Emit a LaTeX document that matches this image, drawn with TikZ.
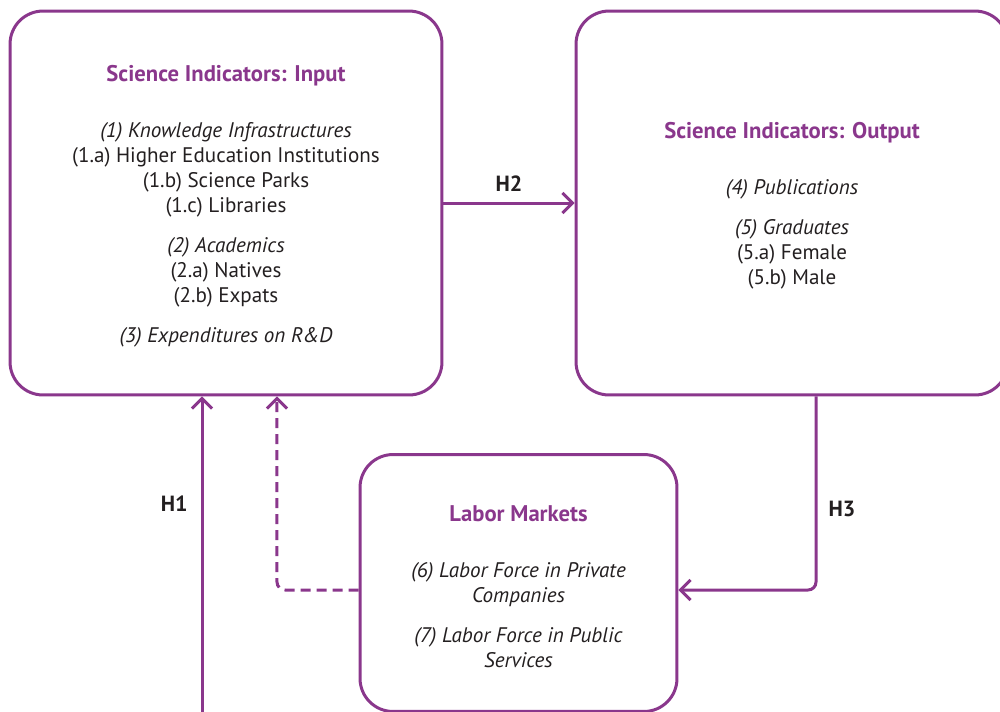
\documentclass[tikz,border=0pt]{standalone}
\usepackage{fontspec}
\setmainfont{PT Sans}
\usetikzlibrary{arrows.meta,positioning}
\definecolor{plum}{RGB}{138,55,140}
\definecolor{ink}{RGB}{35,31,32}
% box headings: a bit larger, with a strut to push the lines down
\newcommand{\hd}[1]{\rule{0pt}{0.45cm}\textcolor{plum}{\fontsize{12.9}{14.23}\selectfont\bfseries #1}}
\tikzset{
  block/.style={draw=plum, line width=0.06cm, rounded corners=0.66cm, align=center,
    text=ink, font=\fontsize{12}{14.23}\selectfont},
  link/.style={draw=plum, line width=0.06cm, -{Straight Barb[length=0.2cm,width=0.4cm]}},
  hyp/.style={font=\fontsize{12.5}{14.23}\selectfont\bfseries, text=ink, inner sep=0pt}
}

\begin{document}
\begin{tikzpicture}[x=0.02cm,y=-0.02cm]
    \useasboundingbox (0,0) rectangle (1000,711);
    \clip (0,0) rectangle (1000,711);

    \node[block, minimum width=8.64cm, minimum height=7.68cm] (input) at (226,203)
        {\hd{Science Indicators: Input}\\[0.62cm]
         \textit{(1) Knowledge Infrastructures}\\
         (1.a) Higher Education Institutions\\
         (1.b) Science Parks\\
         (1.c) Libraries\\[0.3cm]
         \textit{(2) Academics}\\
         (2.a) Natives\\
         (2.b) Expats\\[0.3cm]
         \textit{(3) Expenditures on R\&D}};

    \node[block, minimum width=8.64cm, minimum height=7.68cm] (output) at (792,203)
        {\hd{Science Indicators: Output}\\[0.62cm]
         \textit{(4) Publications}\\[0.3cm]
         \textit{(5) Graduates}\\
         (5.a) Female\\
         (5.b) Male};

    \node[block, minimum width=6.34cm, minimum height=5.14cm] (labor) at (518.5,583)
        {\hd{Labor Markets}\\[0.62cm]
         \textit{(6) Labor Force in Private}\\
         \textit{Companies}\\[0.3cm]
         \textit{(7) Labor Force in Public}\\
         \textit{Services}};

    % hypotheses
    \coordinate (h1start) at (202,720);
    \draw[link] (h1start) -- (h1start |- input.south)
        node[hyp, pos=0.67, left=0.26cm] {H1};
    \draw[link] (input.east) -- (output.west)
        node[hyp, midway, above=0.2cm] {H2};
    \draw[link, rounded corners=0.16cm] ([xshift=0.48cm]output.south) |- ([yshift=-0.14cm]labor.east)
        node[hyp, pos=0.29, right=0.22cm] {H3};
    \draw[link, dash pattern=on 0.2cm off 0.12cm, rounded corners=0.16cm]
        ([yshift=-0.14cm]labor.west) -| ([xshift=1.02cm]input.south);
\end{tikzpicture}
\end{document}
